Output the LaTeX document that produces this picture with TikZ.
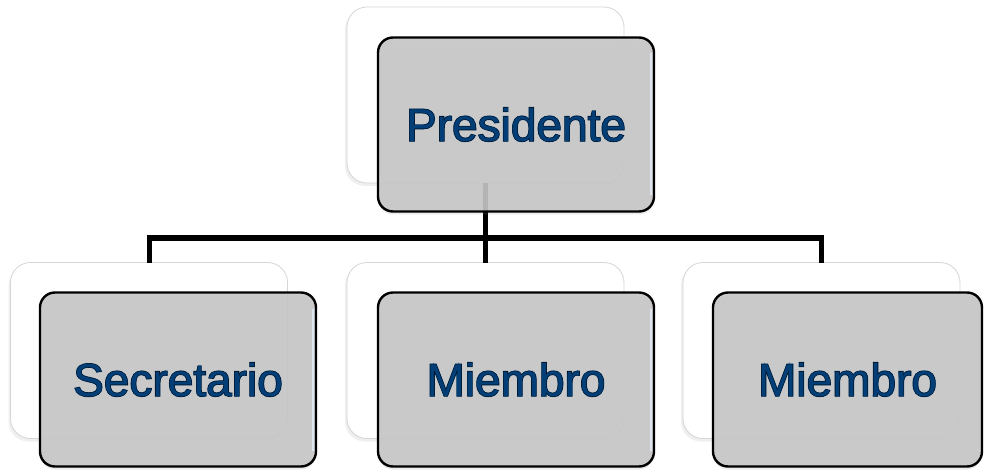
\documentclass[tikz,border=0pt]{standalone}
\usepackage{fontspec}
\setmainfont{Liberation Sans}
\newfontfamily\fbA[FakeBold=3.2]{Liberation Sans}
\newfontfamily\fbB[FakeBold=1.9]{Liberation Sans}
\newfontfamily\fbC[FakeBold=0.4]{Liberation Sans}
\usetikzlibrary{shadows}
\definecolor{txtblue}{HTML}{033E76}
\definecolor{frontgray}{HTML}{C6C6C6}
\definecolor{backedge}{HTML}{D6D6D6}
\definecolor{gloss}{HTML}{DDE6EE}
\newcommand\otxt[1]{\fontsize{46}{50}\selectfont\makebox[0pt]{\color{txtblue}\fbA #1}\makebox[0pt]{\color{black}\fbB #1}\makebox[0pt]{\color{txtblue}\fbC #1}}
\begin{document}
\begin{tikzpicture}[x=1pt,y=-1pt,
  backbox/.style={draw=backedge, line width=0.8pt, fill=white, rounded corners=20pt,
    minimum width=277pt, minimum height=176pt, inner sep=0pt, outer sep=0pt,
    drop shadow={shadow xshift=-2pt, shadow yshift=-3pt, opacity=0.12}},
  frontbox/.style={draw=black, line width=2.4pt, fill=frontgray, fill opacity=0.9, text opacity=1,
    rounded corners=15pt, minimum width=276pt, minimum height=174pt, inner sep=0pt, outer sep=0pt,
    drop shadow={shadow xshift=0pt, shadow yshift=-3pt, opacity=0.15}},
  glossline/.style={draw=gloss, line width=1.2pt},
  conn/.style={draw=black, line width=5pt}]
\useasboundingbox (0,0) rectangle (984,470);
\fill[white] (0,0) rectangle (984,470);
% back boxes
\node[backbox] (pb) at (485.5,95) {};
\node[backbox] (sb) at (149,350.5) {};
\node[backbox] (m1b) at (485.5,350.5) {};
\node[backbox] (m2b) at (821.5,350.5) {};
% connectors
\coordinate (j) at (485.5,238);
\draw[conn] (pb.south) -- (m1b.north);
\draw[conn] (sb.north) |- (j) -| (m2b.north);
% front boxes
\node[frontbox] (pf) at (516,124.5) {\otxt{Presidente}};
\node[frontbox] (sf) at (178,379.5) {\otxt{Secretario}};
\node[frontbox] (m1f) at (516,379.5) {\otxt{Miembro}};
\node[frontbox, minimum width=269pt] (m2f) at (847.5,379.5) {\otxt{Miembro}};
% gloss on right edges
\foreach \n in {pf,sf,m1f}{
  \draw[glossline] ([xshift=-3pt,yshift=-16pt]\n.north east) -- ([xshift=-3pt,yshift=16pt]\n.south east);
}
\end{tikzpicture}
\end{document}
